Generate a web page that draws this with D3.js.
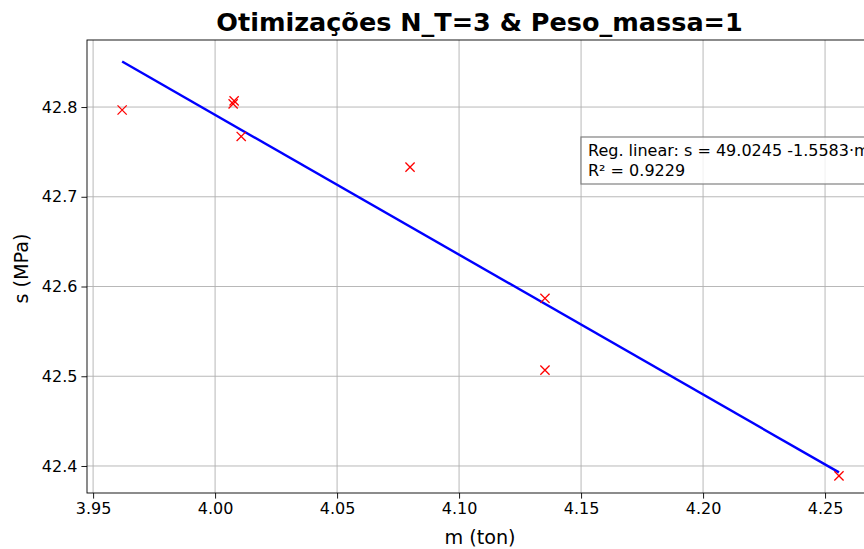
<!DOCTYPE html>
<html>
<head>
<meta charset="utf-8">
<script src="https://cdn.jsdelivr.net/npm/d3@7"></script>
<style>
  html, body { margin: 0; padding: 0; background: #fff; }
  svg { display: block; font-family: "DejaVu Sans", sans-serif; }
</style>
</head>
<body>
<svg id="chart" width="864" height="549"></svg>
<script>
// Optimisation results: mass (ton) vs stress (MPa)
const massTon = [3.9619, 4.0078, 4.0074, 4.0107, 4.0799, 4.1352, 4.1352, 4.2557];
const stressMPa = [42.7967, 42.8068, 42.8035, 42.7672, 42.7330, 42.5869, 42.5068, 42.3890];

// Linear regression reported in the annotation
const regIntercept = 49.0245;
const regSlope = -1.5583;
const regR2 = 0.9229;

const xTicks = [3.95, 4.00, 4.05, 4.10, 4.15, 4.20, 4.25];
const yTicks = [42.4, 42.5, 42.6, 42.7, 42.8];
const xDomain = [3.9475, 4.2717];
const yDomain = [42.3699, 42.8747];

const titleText = "Otimizações N_T=3 & Peso_massa=1";
const xLabel = "m (ton)";
const yLabel = "s (MPa)";

const svg = d3.select("#chart");
const plot = { left: 87, top: 40, right: 878, bottom: 493 };

const x = d3.scaleLinear().domain(xDomain).range([plot.left, plot.right]);
const y = d3.scaleLinear().domain(yDomain).range([plot.bottom, plot.top]);

const xMin = d3.min(massTon), xMax = d3.max(massTon);
const lineY = m => regIntercept + regSlope * m;

// Grid
const grid = svg.append("g").attr("stroke", "#b0b0b0").attr("stroke-width", 0.9);
xTicks.forEach(t => grid.append("line")
  .attr("x1", x(t)).attr("x2", x(t)).attr("y1", plot.top).attr("y2", plot.bottom));
yTicks.forEach(t => grid.append("line")
  .attr("x1", plot.left).attr("x2", plot.right).attr("y1", y(t)).attr("y2", y(t)));

// Regression line over the range of the data
svg.append("line")
  .attr("x1", x(xMin)).attr("y1", y(lineY(xMin)))
  .attr("x2", x(xMax)).attr("y2", y(lineY(xMax)))
  .attr("stroke", "#0000ff").attr("stroke-width", 2.4);

// Data points as "x" markers
const ms = 4.6;
const pts = svg.append("g").attr("stroke", "#ff0000").attr("stroke-width", 1.3);
massTon.forEach((m, i) => {
  const cx = x(m), cy = y(stressMPa[i]);
  pts.append("path").attr("d",
    `M${cx - ms},${cy - ms}L${cx + ms},${cy + ms}M${cx - ms},${cy + ms}L${cx + ms},${cy - ms}`);
});

// Axes
const xAxis = d3.axisBottom(x).tickValues(xTicks).tickFormat(d3.format(".2f")).tickSize(5.6).tickPadding(4);
const yAxis = d3.axisLeft(y).tickValues(yTicks).tickFormat(d3.format(".1f")).tickSize(5.6).tickPadding(4);

const gx = svg.append("g").attr("transform", `translate(0,${plot.bottom})`).call(xAxis);
const gy = svg.append("g").attr("transform", `translate(${plot.left},0)`).call(yAxis);
[gx, gy].forEach(g => {
  g.select(".domain").remove();
  g.selectAll(".tick line").attr("stroke", "#000").attr("stroke-width", 0.9);
  g.selectAll(".tick text").attr("fill", "#000").attr("font-size", "16px")
    .attr("font-family", "DejaVu Sans, sans-serif");
});

// Spines (right spine falls outside the visible area)
svg.append("rect")
  .attr("x", plot.left).attr("y", plot.top)
  .attr("width", plot.right - plot.left).attr("height", plot.bottom - plot.top)
  .attr("fill", "none").attr("stroke", "#000").attr("stroke-width", 0.9);

// Title and axis labels
svg.append("text").attr("x", 479.5).attr("y", 31)
  .attr("text-anchor", "middle").attr("font-size", "25.5px").attr("font-weight", "bold")
  .text(titleText);
svg.append("text").attr("x", 480).attr("y", 544)
  .attr("text-anchor", "middle").attr("font-size", "19.2px").text(xLabel);
svg.append("text").attr("transform", `translate(28,${(plot.top + plot.bottom) / 2 + 2}) rotate(-90)`)
  .attr("text-anchor", "middle").attr("font-size", "19.2px").text(yLabel);

// Regression annotation box
const ann = svg.append("g").attr("transform", "translate(581,137)");
ann.append("rect").attr("x", 0).attr("y", 0).attr("width", 330).attr("height", 47)
  .attr("fill", "#fff").attr("fill-opacity", 0.8).attr("stroke", "#808080").attr("stroke-width", 1.2);
ann.append("text").attr("x", 7).attr("y", 19).attr("font-size", "16px")
  .text(`Reg. linear: s = ${regIntercept.toFixed(4)} ${regSlope.toFixed(4)}·m`);
ann.append("text").attr("x", 7).attr("y", 39).attr("font-size", "16px")
  .text(`R² = ${regR2.toFixed(4)}`);
</script>
</body>
</html>
